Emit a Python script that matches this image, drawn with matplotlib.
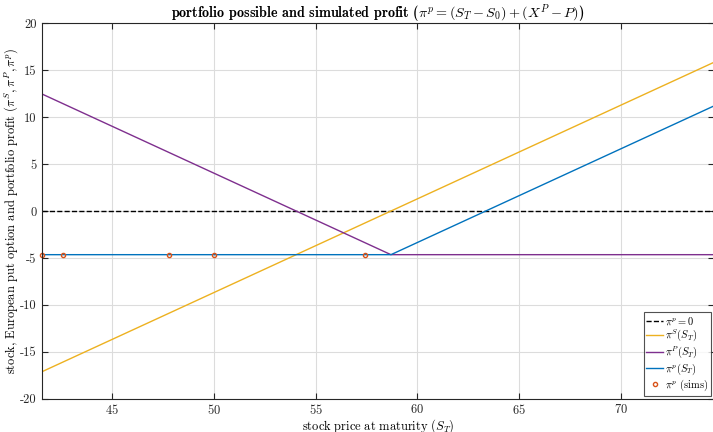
import matplotlib
matplotlib.use('Agg')
import matplotlib.pyplot as plt

# ==========================================================
# data
# ==========================================================
s_grid = [41.58, 58.7, 74.55]          # stock price at maturity (line vertices)
pi_stock = [-17.12, 0.0, 15.85]        # pi^S(S_T)
pi_put = [12.47, -4.65, -4.65]         # pi^P(S_T)
pi_port = [-4.65, -4.65, 11.2]         # pi^p(S_T)

sims_s = [41.6, 42.6, 47.83, 50.0, 57.41]
sims_profit = [-4.65, -4.65, -4.65, -4.65, -4.65]

x_ticks = [45, 50, 55, 60, 65, 70]
y_ticks = [-20, -15, -10, -5, 0, 5, 10, 15, 20]

# MATLAB default colours
c_blue = '#0072BD'
c_orange = '#D95319'
c_yellow = '#EDB120'
c_purple = '#7E2F8E'

plt.rcParams['font.family'] = 'serif'
plt.rcParams['font.serif'] = ['cmr10', 'DejaVu Serif']
plt.rcParams['mathtext.fontset'] = 'cm'
plt.rcParams['axes.formatter.use_mathtext'] = True
plt.rcParams['axes.unicode_minus'] = False

fig = plt.figure(figsize=(7.13, 4.32), dpi=100)
ax = fig.add_axes([0.0589, 0.077, 0.9425, 0.869])

ax.plot([s_grid[0], s_grid[-1]], [0, 0], '--', color='black', lw=1.0, label=r'$\pi^p = 0$')
ax.plot(s_grid, pi_stock, color=c_yellow, lw=1.0, label=r'$\pi^S(S_T)$')
ax.plot(s_grid, pi_put, color=c_purple, lw=1.0, label=r'$\pi^P(S_T)$')
ax.plot(s_grid, pi_port, color=c_blue, lw=1.0, label=r'$\pi^p(S_T)$')
ax.plot(sims_s, sims_profit, 'o', ms=3, mfc='none', mec=c_orange, mew=1.0,
        label=r'$\pi^p$ (sims)', clip_on=False)

ax.set_xlim(s_grid[0], s_grid[-1])
ax.set_ylim(-20, 20)
ax.set_xticks(x_ticks)
ax.set_yticks(y_ticks)
ax.set_yticklabels([str(v) for v in y_ticks])
ax.grid(True, color='#dcdcdc', lw=0.8)
ax.set_axisbelow(True)
ax.tick_params(direction='in', length=4, labelsize=9, colors='#262626',
               top=True, right=True, pad=4)
ax.tick_params(axis='x', pad=3)
for sp in ax.spines.values():
    sp.set_color('#262626')
    sp.set_linewidth(0.8)

ax.set_title(r'portfolio possible and simulated profit ($\pi^p = (S_T - S_0) + (X^P - P)$)',
             fontsize=10.2, fontfamily='cmb10', pad=4)
# whole label in mathtext so its box is tight to the glyphs
ax.set_xlabel(r'$\mathrm{stock\ price\ at\ maturity\ (}S_T\mathrm{)}$', fontsize=9, labelpad=0)
ax.set_ylabel(r'stock, European put option and portfolio profit ($\pi^S, \pi^P, \pi^p$)',
              fontsize=9, labelpad=0)

leg = ax.legend(loc='lower right', fontsize=7.5, frameon=True, fancybox=False,
                borderpad=0.25, handlelength=1.6, handletextpad=0.2,
                labelspacing=0.1, borderaxespad=0.3)
leg.get_frame().set_edgecolor('#262626')
leg.get_frame().set_linewidth(0.8)

fig.savefig('out.png', dpi=100)
